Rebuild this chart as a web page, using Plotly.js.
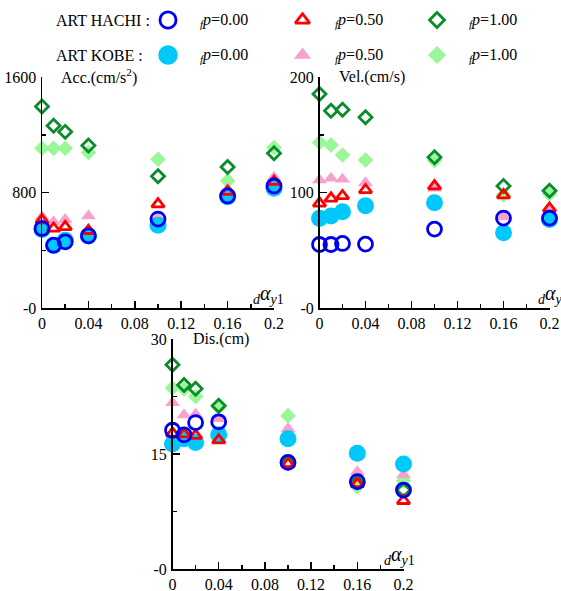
<!DOCTYPE html>
<html>
<head>
<meta charset="utf-8">
<script src="https://cdn.plot.ly/plotly-3.0.1.min.js"></script>
<style>
  html, body { margin: 0; padding: 0; background: #fff; }
  #chart { width: 561px; height: 591px; }
</style>
</head>
<body>
<div id="chart"></div>
<script>
// Damper yield ratio dαy1 on the horizontal axis
const alpha = [0, 0.01, 0.02, 0.04, 0.10, 0.16, 0.20];

// Peak response acceleration (cm/s^2)
const accHachi0  = [551, 435, 458, 500, 616, 776, 845];
const accHachi05 = [609, 551, 562, 535, 720, 806, 875];
const accHachi1  = [1396, 1262, 1220, 1125, 912, 977, 1072];
const accKobe0   = [544, 433, 470, 498, 574, 771, 829];
const accKobe05  = [632, 597, 613, 637, 625, 822, 905];
const accKobe1   = [1107, 1107, 1107, 1077, 1030, 882, 1111];

// Peak response velocity (cm/s)
const velHachi0  = [55, 55, 55.9, 55.3, 68.3, 77.8, 77.8];
const velHachi05 = [90.6, 94.9, 97, 102.2, 105.6, 97.8, 86.2];
const velHachi1  = [185.2, 170.7, 171.6, 165.2, 130.5, 105.6, 101.6];
const velKobe0   = [77.6, 79.6, 83.3, 88.6, 91.2, 65.1, 76.7];
const velKobe05  = [110.8, 112.3, 111.4, 108.5, 103.6, 79, 83.3];
const velKobe1   = [143.3, 141.2, 132.5, 128.2, 127.6, 97.8, 98.7];

// Peak response displacement (cm)
const disHachi0  = [18.1, 17.5, 19.1, 19.2, 13.9, 11.4, 10.3];
const disHachi05 = [17.7, 17.6, 17.4, 16.8, 13.7, 11.1, 8.9];
const disHachi1  = [26.65, 24.0, 23.5, 21.3, 13.9, 11.3, 10.3];
const disKobe0   = [16.3, 17.0, 16.5, 17.5, 17.0, 15.1, 13.7];
const disKobe05  = [21.7, 20.1, 20.2, 19.6, 18.3, 12.7, 12.3];
const disKobe1   = [23.6, 23.5, 22.5, 21.1, 20.0, 10.7, 11.5];

// Key rows and columns
const waveNames = ['ART HACHI', 'ART KOBE'];
const fpValues = ['0.00', '0.50', '1.00'];

// Axis tick labels
const xTicks = [0, 0.04, 0.08, 0.12, 0.16, 0.2];
const accTicks = [0, 800, 1600], accTickText = ['-0', '800', '1600'];
const velTicks = [0, 100, 200],  velTickText = ['-0', '100', '200'];
const disTicks = [0, 15, 30],    disTickText = ['-0', '15', '30'];

const FONT = '"Liberation Serif", "Times New Roman", serif';

// Marker style per series: wave index (0 HACHI, 1 KOBE), fp index
function style(wave, fp, big) {
  const k = big ? 1.15 : 1;
  if (wave === 0) {
    const colors = ['#0000f0', '#ff0000', '#0a8c2a'];
    const symbols = ['circle-open', 'triangle-up-open', 'diamond-open'];
    const sizes = [14, 11, 10];
    return { symbol: symbols[fp], size: sizes[fp] * k, color: colors[fp],
             line: { color: colors[fp], width: 2.8 } };
  }
  const colors = ['#00c8f8', '#f9a0cc', '#99f799'];
  const symbols = ['circle', 'triangle-up', 'diamond'];
  const sizes = [17, 13, 12];
  return { symbol: symbols[fp], size: sizes[fp] * k, color: colors[fp],
           line: { width: 0 } };
}

const panels = [
  { xa: 'x',  ya: 'y',  series: [[accHachi0, accHachi05, accHachi1], [accKobe0, accKobe05, accKobe1]] },
  { xa: 'x2', ya: 'y2', series: [[velHachi0, velHachi05, velHachi1], [velKobe0, velKobe05, velKobe1]] },
  { xa: 'x3', ya: 'y3', series: [[disHachi0, disHachi05, disHachi1], [disKobe0, disKobe05, disKobe1]] }
];

// Filled (KOBE) markers first, open (HACHI) markers on top
const drawOrder = [[1, 2], [1, 1], [1, 0], [0, 2], [0, 1], [0, 0]];

const traces = [];
panels.forEach(p => {
  drawOrder.forEach(([w, f]) => {
    traces.push({
      type: 'scatter', mode: 'markers',
      x: alpha, y: p.series[w][f],
      xaxis: p.xa, yaxis: p.ya,
      marker: style(w, f, false),
      cliponaxis: false, showlegend: false, hoverinfo: 'skip'
    });
  });
});

// Key symbols on their own hidden category axes
drawOrder.forEach(([w, f]) => {
  traces.push({
    type: 'scatter', mode: 'markers',
    x: [fpValues[f]], y: [waveNames[w]],
    xaxis: 'x4', yaxis: 'y4',
    marker: style(w, f, true),
    cliponaxis: false, showlegend: false, hoverinfo: 'skip'
  });
});

const W = 561, H = 591;
const px = v => v / W;
const py = v => 1 - v / H;

function xAxis(domain) {
  return {
    domain: domain, range: [0, 0.2],
    tickmode: 'array', tickvals: xTicks,
    ticks: 'inside', ticklen: 7, tickwidth: 1.5, tickcolor: '#000',
    minor: { tickmode: 'linear', tick0: 0, dtick: 0.02, ticks: 'inside', ticklen: 4, tickwidth: 1.5, tickcolor: '#000', showgrid: false },
    showline: true, linewidth: 1.5, linecolor: '#000',
    showgrid: false, zeroline: false, fixedrange: true,
    tickfont: { family: FONT, size: 16, color: '#000' }
  };
}
function yAxis(domain, anchor, vals, text) {
  const top = vals[vals.length - 1];
  return {
    domain: domain, anchor: anchor, range: [0, top],
    tickmode: 'array', tickvals: vals, ticktext: text,
    ticks: 'inside', ticklen: 7, tickwidth: 1.5, tickcolor: '#000',
    minor: { tickmode: 'linear', tick0: 0, dtick: top / 4, ticks: 'inside', ticklen: 4, tickwidth: 1.5, tickcolor: '#000', showgrid: false },
    showline: true, linewidth: 1.5, linecolor: '#000',
    showgrid: false, zeroline: false, fixedrange: true,
    ticklabelstandoff: 1,
    tickfont: { family: FONT, size: 16, color: '#000' }
  };
}

const topRow = [py(308), py(77)];
const layout = {
  width: W, height: H,
  margin: { l: 0, r: 0, t: 0, b: 0 },
  paper_bgcolor: '#fff', plot_bgcolor: 'rgba(0,0,0,0)',
  showlegend: false,
  font: { family: FONT, size: 16, color: '#000' },
  xaxis:  Object.assign(xAxis([px(42), px(274)]), { anchor: 'y' }),
  yaxis:  yAxis(topRow, 'x', accTicks, accTickText),
  xaxis2: Object.assign(xAxis([px(319.5), px(549.5)]), { anchor: 'y2' }),
  yaxis2: yAxis(topRow, 'x2', velTicks, velTickText),
  xaxis3: Object.assign(xAxis([px(172.5), px(403.5)]), { anchor: 'y3' }),
  yaxis3: yAxis([py(569), py(339)], 'x3', disTicks, disTickText),
  xaxis4: { domain: [px(100.75), px(504.25)], anchor: 'y4', type: 'category',
            categoryorder: 'array', categoryarray: fpValues, range: [-0.5, 2.5],
            visible: false, fixedrange: true },
  yaxis4: { domain: [py(72.5), py(2.5)], anchor: 'x4', type: 'category',
            categoryorder: 'array', categoryarray: waveNames, range: [1.5, -0.5],
            visible: false, fixedrange: true },
  annotations: []
};

const ann = layout.annotations;
const alphaLabel = '<sub><i>d</i></sub><i>α</i><sub><i>y</i>1</sub>';
[
  { xr: 'x',  yr: 'y',  top: 1600, title: 'Acc.(cm/s<sup>2</sup>)', tx: 17, ax: -23, ay: 14 },
  { xr: 'x2', yr: 'y2', top: 200,  title: 'Vel.(cm/s)',              tx: 18, ax: -14, ay: 14 },
  { xr: 'x3', yr: 'y3', top: 30,   title: 'Dis.(cm)',                tx: 18, ax: -22, ay: 14 }
].forEach(a => {
  ann.push({ xref: a.xr, yref: a.yr, x: 0, y: a.top, xshift: a.tx, xanchor: 'left', yanchor: 'middle',
             text: a.title, showarrow: false, font: { family: FONT, size: 16, color: '#000' } });
  ann.push({ xref: a.xr, yref: a.yr, x: 0.2, y: 0, xshift: a.ax, yshift: a.ay, xanchor: 'left', yanchor: 'middle',
             text: alphaLabel, showarrow: false, font: { family: FONT, size: 20, color: '#000' } });
});

// Key text: row names and fp values beside each symbol (category index on x4)
waveNames.forEach(name => {
  ann.push({ xref: 'paper', yref: 'y4', x: px(54), y: name, xanchor: 'left', yanchor: 'middle',
             text: name + ' :', showarrow: false, font: { family: FONT, size: 16, color: '#000' } });
  fpValues.forEach((fp, i) => {
    ann.push({ xref: 'x4', yref: 'y4', x: i, y: name, xshift: 30, xanchor: 'left', yanchor: 'middle',
               text: '<sub><i>f</i></sub><i>p</i>=' + fp, showarrow: false,
               font: { family: FONT, size: 16, color: '#000' } });
  });
});

Plotly.newPlot('chart', traces, layout, { staticPlot: true, displayModeBar: false });
</script>
</body>
</html>
